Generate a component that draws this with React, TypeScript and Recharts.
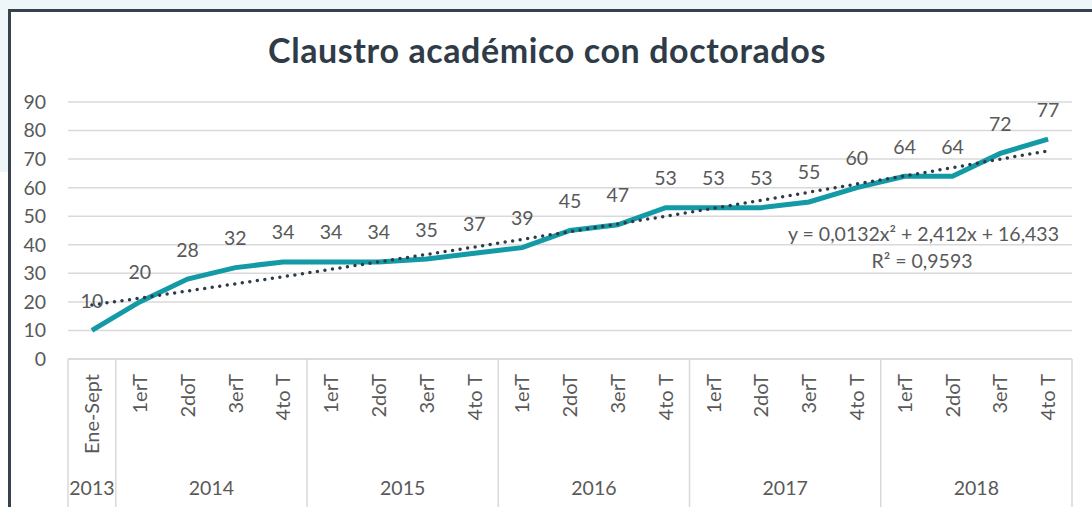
import React from "react";
import {
  LineChart,
  Line,
  XAxis,
  YAxis,
  CartesianGrid,
  LabelList,
} from "recharts";

// quarter labels, one per point
const quarters = [
  "Ene-Sept",
  "1erT", "2doT", "3erT", "4to T",
  "1erT", "2doT", "3erT", "4to T",
  "1erT", "2doT", "3erT", "4to T",
  "1erT", "2doT", "3erT", "4to T",
  "1erT", "2doT", "3erT", "4to T",
];

// year groups under the quarter labels
const years = ["2013", "2014", "2015", "2016", "2017", "2018"];
const yearSizes = [1, 4, 4, 4, 4, 4];

// doctorates per period
const doctorados = [10, 20, 28, 32, 34, 34, 34, 35, 37, 39, 45, 47, 53, 53, 53, 55, 60, 64, 64, 72, 77];

// dotted polynomial trend line
const tendencia = [18.9, 21.3, 23.8, 26.3, 28.8, 31.4, 34.0, 36.6, 39.2, 41.9, 44.6, 47.3, 50.0, 52.8, 55.6, 58.4, 61.3, 64.1, 67.0, 70.0, 72.9];

const yTicks = [0, 10, 20, 30, 40, 50, 60, 70, 80, 90];

const data = quarters.map((q, i) => ({
  q,
  value: doctorados[i],
  trend: tendencia[i],
}));

// index of the first point of each year group
const groupStarts: number[] = [];
yearSizes.reduce((acc, n) => {
  groupStarts.push(acc);
  return acc + n;
}, 0);

const FONT = "Lato, 'Open Sans', sans-serif";
const GREY = "#595959";
const GRID = "#d9d9d9";
const TEAL = "#139aa6";

// plot is 1004px wide, points sit in the middle of 21 equal slots
const SLOT_HALF = 1004 / quarters.length / 2;

function QuarterTick(props: any) {
  const { x, y, payload } = props;
  const i = payload.index;
  const half = payload.offset || SLOT_HALF;
  const g = groupStarts.indexOf(i);
  return (
    <g>
      <text
        x={x}
        y={y + 15}
        transform={`rotate(-90 ${x} ${y + 15})`}
        textAnchor="end"
        dy="0.36em"
        fill={GREY}
        fontSize={20}
        fontFamily={FONT}
      >
        {quarters[i]}
      </text>
      {g >= 0 && (
        <>
          <line x1={x - half} x2={x - half} y1={y} y2={y + 150} stroke={GRID} strokeWidth={1.5} />
          <text
            x={x - half + yearSizes[g] * half}
            y={y + 128}
            textAnchor="middle"
            dominantBaseline="central"
            fill={GREY}
            fontSize={19.5}
            fontFamily={FONT}
          >
            {years[g]}
          </text>
        </>
      )}
      {i === quarters.length - 1 && (
        <line x1={x + half} x2={x + half} y1={y} y2={y + 150} stroke={GRID} strokeWidth={1.5} />
      )}
    </g>
  );
}

function ValueLabel(props: any) {
  const { x, y, value } = props;
  return (
    <text
      x={x}
      y={y - 30}
      textAnchor="middle"
      dominantBaseline="central"
      fill={GREY}
      fontSize={19.5}
      fontFamily={FONT}
    >
      {value}
    </text>
  );
}

export default function App() {
  return (
    <div
      style={{
        position: "fixed",
        left: 0,
        top: 0,
        width: 1092,
        height: 507,
        overflow: "hidden",
        background: "#fff",
      }}
    >
      {/* page background around the chart frame */}
      <div style={{ position: "absolute", left: 0, top: 0, width: 1092, height: 9, background: "#eef6f9" }} />
      <div style={{ position: "absolute", left: 0, top: 0, width: 8, height: 172, background: "#eef6f9" }} />
      <div
        style={{
          position: "absolute",
          left: 8,
          top: 9,
          width: 1100,
          height: 520,
          borderLeft: "3px solid #36434e",
          borderTop: "3px solid #36434e",
          background: "#fff",
        }}
      />
      <div
        style={{
          position: "absolute",
          left: 0,
          top: 28,
          width: 1094,
          textAlign: "center",
          fontFamily: FONT,
          fontWeight: 700,
          fontSize: 34,
          letterSpacing: 0.6,
          color: "#2f3c48",
          lineHeight: "44px",
        }}
      >
        Claustro académico con doctorados
      </div>
      <div style={{ position: "absolute", left: 0, top: 0 }}>
        <LineChart
          width={1092}
          height={507}
          data={data}
          margin={{ top: 102, right: 20, left: 0, bottom: 0 }}
        >
          <CartesianGrid vertical={false} stroke={GRID} strokeWidth={1.5} />
          <XAxis
            dataKey="q"
            interval={0}
            height={148}
            padding={{ left: SLOT_HALF, right: SLOT_HALF }}
            tickLine={false}
            tickSize={0}
            tickMargin={0}
            axisLine={{ stroke: GRID, strokeWidth: 1.5 }}
            tick={<QuarterTick />}
          />
          <YAxis
            width={68}
            domain={[0, 90]}
            ticks={yTicks}
            interval={0}
            axisLine={false}
            tickLine={false}
            tickSize={0}
            tickMargin={22}
            tick={{ fill: GREY, fontSize: 19.5, fontFamily: FONT }}
          />
          <Line
            dataKey="value"
            type="linear"
            stroke={TEAL}
            strokeWidth={5}
            dot={false}
            isAnimationActive={false}
          >
            <LabelList dataKey="value" content={<ValueLabel />} />
          </Line>
          <Line
            dataKey="trend"
            type="linear"
            stroke="#2e3a45"
            strokeWidth={3.5}
            strokeDasharray="0 7.6"
            strokeLinecap="round"
            dot={false}
            isAnimationActive={false}
          />
        </LineChart>
      </div>
      <div
        style={{
          position: "absolute",
          right: 1092 - 1059,
          top: 222,
          fontFamily: FONT,
          fontSize: 19.5,
          color: GREY,
          lineHeight: "24px",
          whiteSpace: "nowrap",
        }}
      >
        y = 0,0132x² + 2,412x + 16,433
      </div>
      <div
        style={{
          position: "absolute",
          left: 822,
          width: 200,
          top: 249,
          textAlign: "center",
          fontFamily: FONT,
          fontSize: 19.5,
          color: GREY,
          lineHeight: "24px",
          whiteSpace: "nowrap",
        }}
      >
        R² = 0,9593
      </div>
    </div>
  );
}
